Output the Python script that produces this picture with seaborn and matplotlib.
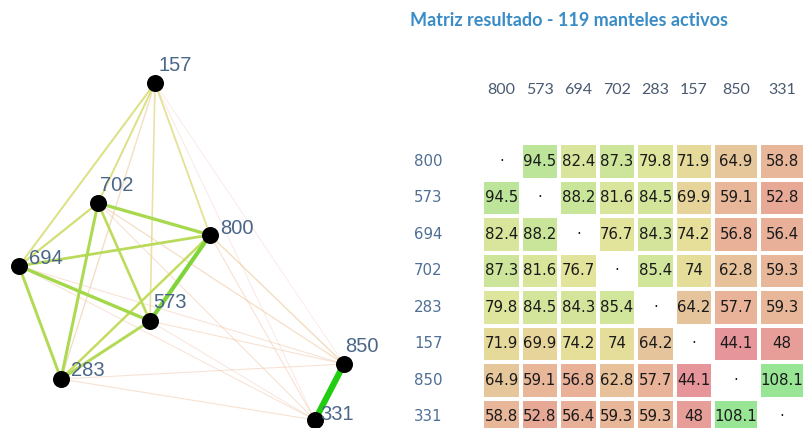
import numpy as np
import pandas as pd
import matplotlib
matplotlib.use("Agg")
import matplotlib.pyplot as plt
from matplotlib.colors import LinearSegmentedColormap
import seaborn as sns

# ---------------- data ----------------
labels = ["800", "573", "694", "702", "283", "157", "850", "331"]
similarity = [
    [np.nan, 94.5, 82.4, 87.3, 79.8, 71.9, 64.9, 58.8],
    [94.5, np.nan, 88.2, 81.6, 84.5, 69.9, 59.1, 52.8],
    [82.4, 88.2, np.nan, 76.7, 84.3, 74.2, 56.8, 56.4],
    [87.3, 81.6, 76.7, np.nan, 85.4, 74.0, 62.8, 59.3],
    [79.8, 84.5, 84.3, 85.4, np.nan, 64.2, 57.7, 59.3],
    [71.9, 69.9, 74.2, 74.0, 64.2, np.nan, 44.1, 48.0],
    [64.9, 59.1, 56.8, 62.8, 57.7, 44.1, np.nan, 108.1],
    [58.8, 52.8, 56.4, 59.3, 59.3, 48.0, 108.1, np.nan],
]
# network layout (graph coordinates)
node_x = [210, 150, 19, 98, 61, 155, 344, 315]
node_y = [235, 321, 266, 203, 379, 83, 364, 420]
title = "Matriz resultado - 119 manteles activos"

# ---------------- style ----------------
VMIN, VMAX = 44.0, 108.1


def make_cmap(name, stops):
    return LinearSegmentedColormap.from_list(
        name, [((v - VMIN) / (VMAX - VMIN), c) for v, c in stops])


cell_cmap = make_cmap("cells", [
    (44.0, "#e6959a"), (52.8, "#e8a896"), (58.8, "#e8b699"),
    (64.9, "#e6c69b"), (71.9, "#e6da9a"), (76.7, "#e3e49b"),
    (82.4, "#d9e59c"), (88.2, "#c9e59a"), (94.5, "#bde59a"),
    (108.1, "#98e596")])
edge_cmap = make_cmap("edges", [
    (44.0, "#f4d0c8"), (58.0, "#f0c4a8"), (65.0, "#ecc898"),
    (70.0, "#e4d888"), (74.0, "#d8dc70"), (80.0, "#c4dc60"),
    (88.0, "#a4d84c"), (95.0, "#7cd438"), (108.1, "#22cc11")])

df = pd.DataFrame(similarity, index=labels, columns=labels)

fig = plt.figure(figsize=(8.05, 4.28), dpi=100)
W, H = 805.0, 428.0

# ---------------- network ----------------
axg = fig.add_axes([0, 0, 400 / W, 1])

pairs = []
n = len(labels)
for i in range(n):
    for j in range(i + 1, n):
        pairs.append((similarity[i][j], i, j))
pairs.sort()
for v, i, j in pairs:
    t = (v - VMIN) / (VMAX - VMIN)
    lw_px = 0.8 + 5.4 * t ** 2
    col = edge_cmap(t)
    alpha = 0.5 + 0.5 * min(1, max(0, (v - 60) / 20))
    axg.plot([node_x[i], node_x[j]], [node_y[i], node_y[j]],
             color=col, lw=lw_px * 0.72, alpha=alpha,
             solid_capstyle="butt", zorder=1)

nodes = pd.DataFrame({"x": node_x, "y": node_y, "label": labels})
sns.scatterplot(data=nodes, x="x", y="y", ax=axg, color="black", s=150,
                edgecolor="black", linewidth=0, zorder=3, legend=False)
axg.set_xlim(0, 400)
axg.set_ylim(428, 0)
axg.axis("off")
label_off = {"800": (10, -7), "573": (3, -18), "694": (10, -8), "702": (2, -18),
             "283": (10, -8), "157": (3, -18), "850": (1, -18), "331": (5, -5)}
for x, y, lab in zip(node_x, node_y, labels):
    dx, dy = label_off[lab]
    axg.text(x + dx, y + dy, lab, fontsize=14.5, color="#4a6788",
             family="Liberation Sans", ha="left", va="center", zorder=4)

# ---------------- heatmap ----------------
top_px, row_h = 143.0, 36.5
bottom_px = top_px + 8 * row_h
ybot = (H - bottom_px) / H
hfrac = (bottom_px - top_px) / H
blocks = [(482.0, 713.0, 0, 6), (713.0, 805.0, 6, 8)]
annot = df.apply(lambda c: c.map(lambda v: "" if pd.isna(v) else f"{v:g}"))
for k, (x0, x1, c0, c1) in enumerate(blocks):
    ax = fig.add_axes([x0 / W, ybot, (x1 - x0) / W, hfrac])
    sub = df.iloc[:, c0:c1]
    sns.heatmap(sub, ax=ax, cmap=cell_cmap, vmin=VMIN, vmax=VMAX,
                annot=annot.iloc[:, c0:c1].values, fmt="",
                annot_kws={"fontsize": 10.8, "color": "#1a1a1a",
                           "family": "DejaVu Sans"},
                linewidths=1.6, linecolor="white", cbar=False,
                square=False)
    for r in range(n):
        for c in range(c0, c1):
            if r == c:
                ax.text(c - c0 + 0.5, r + 0.5, "·", ha="center", va="center",
                        fontsize=10.8, color="#1a1a1a")
    ax.xaxis.tick_top()
    ax.set_xlabel("")
    ax.set_ylabel("")
    ax.tick_params(axis="x", length=0, pad=33, labelsize=11.5,
                   labelcolor="#4a5a70", rotation=0)
    for tl in ax.get_xticklabels():
        tl.set_family("Lato")
    if k == 0:
        ax.tick_params(axis="y", length=0, labelsize=10.8,
                       labelcolor="#4f6f95", rotation=0)
        for tl in ax.get_yticklabels():
            tl.set_family("DejaVu Sans")
            tl.set_horizontalalignment("left")
        ax.yaxis.set_tick_params(pad=49)
    else:
        ax.set_yticks([])

fig.text(410 / W, 1 - 21 / H, title, fontsize=13, color="#3a8cc6",
         family="Lato", weight="bold", ha="left", va="center")

fig.savefig("out.png", dpi=100)
